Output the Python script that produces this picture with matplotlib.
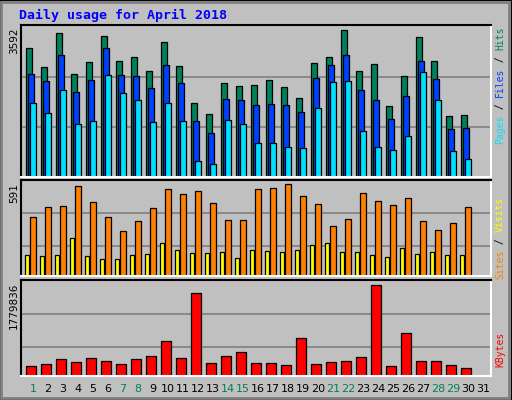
import matplotlib
matplotlib.use("Agg")
import matplotlib.pyplot as plt
from matplotlib.patches import Rectangle
import numpy as np

days = list(range(1, 31))
day_labels = [str(d) for d in range(1, 32)]
weekend_days = [1, 7, 8, 14, 15, 21, 22, 28, 29]
hits = [3153, 2688, 3519, 2517, 2811, 3446, 2835, 2933, 2591, 3299, 2713, 1809, 1540, 2297, 2224,
        2248, 2371, 2200, 1931, 2786, 2933, 3592, 2591, 2762, 1735, 2468, 3422, 2835, 1491, 1515]
files = [2517, 2346, 2982, 2077, 2371, 3153, 2493, 2468, 2175, 2737, 2297, 1369, 1075, 1906, 1882,
         1760, 1784, 1760, 1589, 2420, 2737, 2982, 2126, 1882, 1418, 1980, 2835, 2395, 1173, 1198]
pages = [1809, 1564, 2126, 1295, 1369, 2493, 2053, 1882, 1344, 1809, 1369, 391, 318, 1393, 1295,
         831, 831, 733, 709, 1686, 2322, 2346, 1124, 733, 660, 1002, 2566, 1882, 635, 440]
visits = [379, 443, 450, 578, 475, 379, 289, 353, 437, 559, 527, 546, 469, 360, 360,
          559, 565, 591, 514, 462, 321, 366, 533, 482, 456, 501, 353, 295, 340, 443]
sites = [135, 128, 135, 244, 128, 109, 109, 135, 141, 212, 167, 148, 148, 154, 116,
         167, 161, 154, 167, 199, 212, 154, 154, 135, 122, 180, 141, 154, 135, 135]
kbytes = [188000, 227000, 338000, 279000, 357000, 299000, 240000, 338000, 396000, 689000,
          357000, 1624000, 260000, 396000, 474000, 260000, 260000, 221000, 747000, 240000,
          279000, 299000, 377000, 1779836, 188000, 844000, 299000, 299000, 221000, 162000]

C_HITS, C_FILES, C_PAGES = "#00805c", "#0040ff", "#00e0ff"
C_VIS, C_SITES, C_KB = "#ff8000", "#ffff00", "#ff0000"
BG = "#c0c0c0"
W, H = 512, 400
fig = plt.figure(figsize=(W/100, H/100), dpi=100, facecolor=BG)

fig.patches.append(Rectangle((0, 0), 1, 1, transform=fig.transFigure, fill=False, ec="black", lw=1.5))
fig.patches.append(Rectangle((1/W, 2/H), (W-4)/W, (H-4)/H, transform=fig.transFigure, fill=False, ec="#808080", lw=2))

def ax_at(top, bottom, left=21, right=491):
    ax = fig.add_axes([left/W, 1-bottom/H, (right-left)/W, (bottom-top)/H])
    ax.set_facecolor(BG)
    ax.set_xlim(0.2, 31.53)
    ax.set_xticks([]); ax.set_yticks([])
    for s in ["top", "left"]:
        ax.spines[s].set_color("black")
    for s in ["bottom", "right"]:
        ax.spines[s].set_color("white")
    for s in ax.spines.values():
        s.set_linewidth(1.5)
    return ax

x = np.array(days)
ekw = dict(edgecolor="black", linewidth=0.9, align="center")

ax1 = ax_at(25, 177)
ax1.set_ylim(0, 3715)
for g in [1222, 2444]:
    ax1.axhline(g, color="#808080", lw=1.2, zorder=0)
ax1.bar(x - 0.27, hits, 0.44, color=C_HITS, **ekw)
ax1.bar(x - 0.13, files, 0.44, color=C_FILES, **ekw)
ax1.bar(x, pages, 0.44, color=C_PAGES, **ekw)

ax2 = ax_at(180, 276)
ax2.set_ylim(0, 619)
for g in [193, 405]:
    ax2.axhline(g, color="#808080", lw=1.2, zorder=0)
ax2.bar(x - 0.38, sites, 0.27, color=C_SITES, **ekw)
ax2.bar(x, visits, 0.44, color=C_VIS, **ekw)

ax3 = ax_at(280, 376)
ax3.set_ylim(0, 1870800)
for g in [572000, 1215000]:
    ax3.axhline(g, color="#808080", lw=1.2, zorder=0)
ax3.bar(x - 0.11, kbytes, 0.66, color=C_KB, **ekw)

for i, lab in enumerate(day_labels):
    d = i + 1
    ax3.text(d, -0.14, lab, transform=ax3.get_xaxis_transform(), ha="center", va="center",
             fontsize=8, color=C_HITS if d in weekend_days else "black")

fig.text(19/W, 1-15/H, "Daily usage for April 2018", color="#0000ff", fontsize=9.5,
         family="DejaVu Sans Mono", fontweight="bold", va="center", ha="left")

for txt, ytop in [("3592", 27), ("591", 183), ("1779836", 283)]:
    fig.text(14/W, 1-ytop/H, txt, rotation=90, fontsize=7.5, va="top", ha="center", color="black")

def stack(parts, ytop, xpx=500, fs=7):
    cw = 0.6*fs*100/72
    y = ytop
    for t, c in parts:
        fig.text(xpx/W, 1-y/H, t, rotation=90, fontsize=fs, family="DejaVu Sans Mono",
                 color=c, va="top", ha="center")
        y += cw*len(t)

stack([("Hits", C_HITS), (" / ", "black"), ("Files", C_FILES), (" / ", "black"), ("Pages", C_PAGES)], 27)
stack([("Visits", C_SITES), (" / ", "black"), ("Sites", C_VIS)], 197)
stack([("KBytes", C_KB)], 332)

fig.savefig("out.png", dpi=100, facecolor=BG)
